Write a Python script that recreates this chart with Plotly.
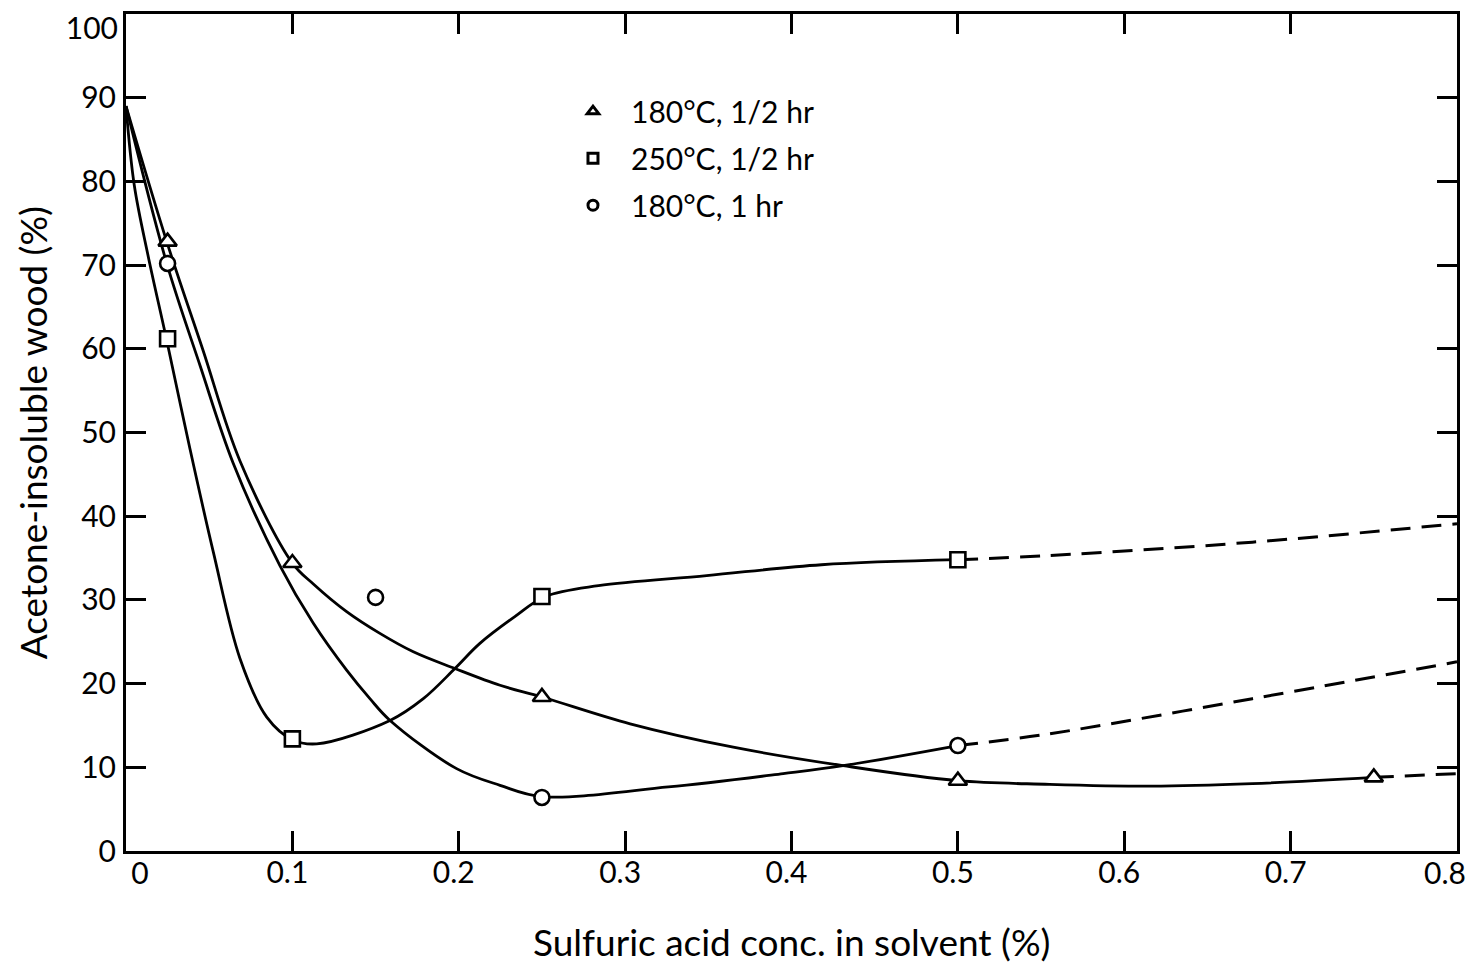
import plotly.graph_objects as go

# ---- measured data points (markers) ----
tri_x = [0.025, 0.1, 0.25, 0.5, 0.75]
tri_y = [72.8, 34.4, 18.4, 8.4, 8.8]
sq_x = [0.025, 0.1, 0.25, 0.5]
sq_y = [61.2, 13.4, 30.4, 34.8]
ci_x = [0.025, 0.15, 0.25, 0.5]
ci_y = [70.2, 30.3, 6.4, 12.6]

# ---- hand-drawn fitted curves ----
tri_curve_x = [0, 0.0245, 0.046, 0.0685, 0.1, 0.1126, 0.1326, 0.1526, 0.1727, 0.1977, 0.2248,
               0.25, 0.303, 0.365, 0.431, 0.5, 0.555, 0.616, 0.677, 0.75]
tri_curve_y = [89, 72.8, 60.0, 46.6, 34.4, 31.9, 28.6, 26.0, 23.8, 21.8, 19.8,
               18.4, 15.2, 12.4, 10.2, 8.4, 7.97, 7.75, 8.05, 8.8]
sq_curve_x = [0, 0.005, 0.0134, 0.0245, 0.0385, 0.0525, 0.0685, 0.0846, 0.1, 0.1146, 0.1587,
              0.1787, 0.1977, 0.2127, 0.2337, 0.252, 0.284, 0.349, 0.418, 0.5]
sq_curve_y = [89, 79.5, 71.0, 61.0, 48.0, 35.7, 23.0, 16.0, 13.3, 12.8, 15.6,
              18.2, 21.8, 24.8, 28.0, 30.4, 31.7, 32.9, 34.2, 34.8]
ci_curve_x = [0, 0.0245, 0.0445, 0.0645, 0.0925, 0.1126, 0.1326, 0.1466, 0.1587, 0.1987,
              0.2248, 0.25, 0.326, 0.395, 0.431, 0.5]
ci_curve_y = [89, 70.2, 58.0, 46.3, 34.1, 27.2, 21.6, 18.2, 15.6, 9.84,
              7.85, 6.5, 7.65, 9.25, 10.2, 12.6]

# ---- dashed extrapolations ----
tri_dash_x = [0.75, 0.8]
tri_dash_y = [8.8, 9.25]
sq_dash_x = [0.5, 0.555, 0.677, 0.8]
sq_dash_y = [34.8, 35.3, 36.9, 39.1]
ci_dash_x = [0.5, 0.555, 0.677, 0.8]
ci_dash_y = [12.6, 14.0, 18.2, 22.6]

# ---- labels ----
series_names = ["180°C, 1/2 hr", "250°C, 1/2 hr", "180°C, 1 hr"]
x_ticks = [0, 0.1, 0.2, 0.3, 0.4, 0.5, 0.6, 0.7, 0.8]
x_tick_text = ["0", "0.1", "0.2", "0.3", "0.4", "0.5", "0.6", "0.7", "0.8"]
y_ticks = [0, 10, 20, 30, 40, 50, 60, 70, 80, 90, 100]
y_tick_text = ["0", "10", "20", "30", "40", "50", "60", "70", "80", "90", "100"]
x_title = "Sulfuric acid conc. in solvent (%)"
y_title = "Acetone-insoluble wood (%)"

FONT = "Lato, 'DejaVu Sans', sans-serif"
INK = "black"
TICKFONT = dict(family=FONT, size=30, color=INK)

fig = go.Figure()

# solid curves
for cx, cy in [(tri_curve_x, tri_curve_y), (sq_curve_x, sq_curve_y), (ci_curve_x, ci_curve_y)]:
    fig.add_trace(go.Scatter(x=cx, y=cy, mode="lines", showlegend=False, hoverinfo="skip",
                             line=dict(color=INK, width=2.8, shape="spline", smoothing=1.0)))
# dashed curves
for dx, dy in [(tri_dash_x, tri_dash_y), (sq_dash_x, sq_dash_y), (ci_dash_x, ci_dash_y)]:
    fig.add_trace(go.Scatter(x=dx, y=dy, mode="lines", showlegend=False, hoverinfo="skip",
                             line=dict(color=INK, width=3, shape="spline", smoothing=1.0,
                                       dash="20px,11px")))

# markers
symbols = ["triangle-up", "square", "circle"]
for (mx, my), sym, size in zip([(tri_x, tri_y), (sq_x, sq_y), (ci_x, ci_y)], symbols, [16, 15, 15]):
    fig.add_trace(go.Scatter(x=mx, y=my, mode="markers", showlegend=False,
                             marker=dict(symbol=sym, size=size, color="white",
                                         line=dict(color=INK, width=2.6))))

# legend-only entries
for i, (name, sym) in enumerate(zip(series_names, symbols)):
    fig.add_trace(go.Scatter(x=[None], y=[None], mode="markers", name=name,
                             legendgroup=f"g{i}",
                             marker=dict(symbol=sym, size=10, color="white",
                                         line=dict(color=INK, width=3))))

# empty traces so that the label-only overlay axes get drawn
for xa, ya in [("x2", "y"), ("x3", "y"), ("x", "y2")]:
    fig.add_trace(go.Scatter(x=[None], y=[None], xaxis=xa, yaxis=ya, mode="markers",
                             showlegend=False, hoverinfo="skip"))

axis_common = dict(showline=True, linecolor=INK, linewidth=3, mirror="ticks",
                   ticks="inside", ticklen=20, tickwidth=3, tickcolor=INK,
                   showgrid=False, zeroline=False, ticklabeloverflow="allow",
                   automargin=False, tickfont=TICKFONT)
label_only = dict(ticks="", showline=False, showgrid=False, zeroline=False,
                  automargin=False, ticklabeloverflow="allow", tickfont=TICKFONT)

main_x_text = [""] + x_tick_text[1:-1] + [""]
main_y_text = y_tick_text[:-1] + [""]

fig.update_layout(
    width=1470, height=965,
    margin=dict(l=126, r=13, t=14, b=114),
    paper_bgcolor="white", plot_bgcolor="white",
    xaxis=dict(range=[0, 0.8], tickvals=x_ticks, ticktext=main_x_text,
               ticklabelstandoff=-7, ticklabelshift=-5, **axis_common),
    xaxis2=dict(overlaying="x", anchor="y", side="bottom", range=[0, 0.8],
                tickvals=x_ticks[-1:], ticktext=x_tick_text[-1:], ticklabelstandoff=2,
                ticklabelshift=-12, **label_only),
    xaxis3=dict(overlaying="x", anchor="y", side="bottom", range=[0, 0.8],
                tickvals=x_ticks[:1], ticktext=x_tick_text[:1], ticklabelstandoff=2,
                ticklabelshift=14, **label_only),
    yaxis=dict(range=[0, 100], tickvals=y_ticks, ticktext=main_y_text,
               ticklabelstandoff=1, **axis_common),
    yaxis2=dict(overlaying="y", anchor="x", side="left", range=[0, 100],
                tickvals=y_ticks[-1:], ticktext=y_tick_text[-1:], ticklabelstandoff=7,
                ticklabelshift=14, **label_only),
    showlegend=True,
    legend=dict(x=0.3223, y=0.915, xanchor="left", yanchor="top",
                bgcolor="rgba(0,0,0,0)", borderwidth=0, itemwidth=66,
                font=dict(family=FONT, size=30, color=INK),
                tracegroupgap=5, itemsizing="trace"),
    annotations=[
        dict(text=x_title, xref="paper", yref="paper", x=0.5, y=-0.108,
             xanchor="center", yanchor="middle", showarrow=False,
             font=dict(family=FONT, size=37, color=INK)),
        dict(text=y_title, xref="paper", yref="paper", x=-0.07, y=0.5,
             xanchor="center", yanchor="middle", showarrow=False, textangle=-90,
             font=dict(family=FONT, size=37, color=INK)),
    ],
)

fig.write_html("out.html", config={"displayModeBar": False},
               post_script="document.body.style.margin='0';")
